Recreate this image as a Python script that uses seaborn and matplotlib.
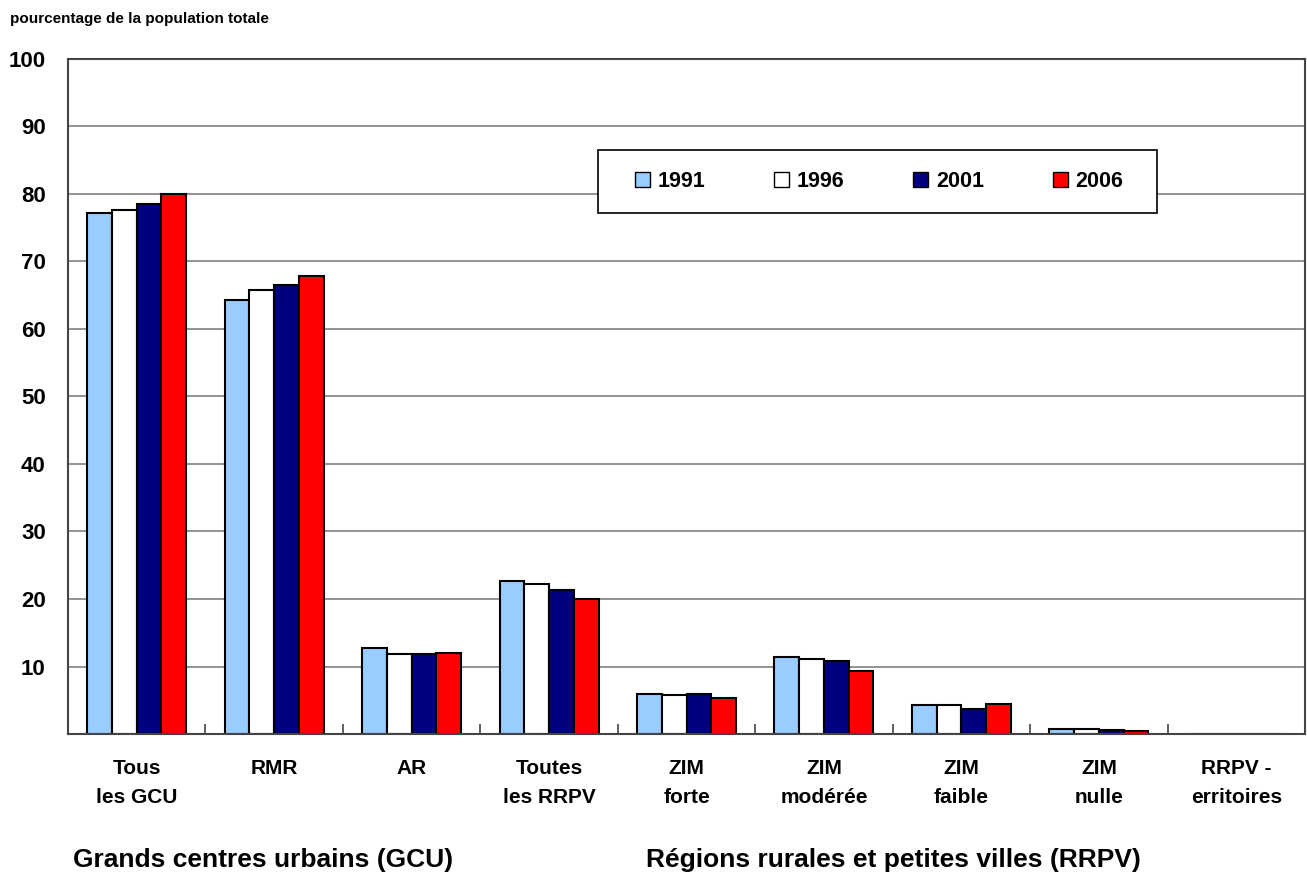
import numpy as np
import pandas as pd
import matplotlib
matplotlib.use("Agg")
import matplotlib.pyplot as plt
from matplotlib.patches import Rectangle
import seaborn as sns

# Données
categories = ["Tous\nles GCU", "RMR", "AR", "Toutes\nles RRPV", "ZIM\nforte",
              "ZIM\nmodérée", "ZIM\nfaible", "ZIM\nnulle", "RRPV -\nerritoires"]
annees = ["1991", "1996", "2001", "2006"]
v1991 = [77.2, 64.3, 12.8, 22.6, 6.0, 11.4, 4.3, 0.8, 0.0]
v1996 = [77.6, 65.7, 11.8, 22.2, 5.8, 11.1, 4.3, 0.8, 0.0]
v2001 = [78.5, 66.5, 11.9, 21.4, 6.0, 10.8, 3.7, 0.6, 0.0]
v2006 = [79.9, 67.8, 12.0, 20.0, 5.3, 9.4, 4.5, 0.45, 0.0]
couleurs = ["#99CCFF", "#FFFFFF", "#000080", "#FF0000"]
yticks = [10, 20, 30, 40, 50, 60, 70, 80, 90, 100]

df = pd.DataFrame({
    "categorie": categories * 4,
    "annee": np.repeat(annees, len(categories)),
    "valeur": v1991 + v1996 + v2001 + v2006,
})

sns.set_theme(style="white")
plt.rcParams["font.family"] = ["Liberation Sans", "DejaVu Sans"]
plt.rcParams["font.weight"] = "bold"
plt.rcParams["text.color"] = "black"
plt.rcParams["xtick.color"] = "black"
plt.rcParams["ytick.color"] = "black"

fig = plt.figure(figsize=(13.07, 8.76), dpi=100)
ax = fig.add_axes([0.052, 0.162, 0.9465, 0.771])

sns.barplot(
    data=df, x="categorie", y="valeur", hue="annee", palette=couleurs,
    width=0.72, edgecolor="black", linewidth=1.5, ax=ax, saturation=1, legend=True
)

ax.set_ylim(0, 100)
ax.set_xlim(-0.5, len(categories) - 0.5)
ax.set_yticks(yticks)
ax.set_yticklabels([str(t) for t in yticks], fontsize=16, fontweight="bold")
ax.yaxis.grid(True, color="#808080", linewidth=1.2)
ax.set_axisbelow(True)
ax.set_xlabel("")
ax.set_ylabel("")
ax.set_xticks(range(len(categories)))
ax.set_xticklabels(categories, fontsize=15, fontweight="bold", linespacing=1.65)
ax.tick_params(axis="x", length=0, pad=18)
ax.tick_params(axis="y", length=0, pad=16)
ax.set_xticks(np.arange(0.5, len(categories) - 0.5), minor=True)
ax.tick_params(axis="x", which="minor", length=7, width=1.2, direction="in",
               bottom=True, color="#444444")
for s in ax.spines.values():
    s.set_color("#444444")
    s.set_linewidth(1.5)

# Cadre de la légende (dessiné à part pour garder les marges de l'original)
ax.add_patch(Rectangle((0.4285, 0.772), 0.452, 0.0935, transform=ax.transAxes,
                       facecolor="white", edgecolor="black", linewidth=1.2, zorder=4))
leg = ax.legend(
    ncol=4, loc="center", bbox_to_anchor=(0.6556, 0.8187), frameon=False,
    handlelength=0.7, handleheight=0.7, handletextpad=0.35, columnspacing=3.2,
    borderpad=0, prop={"size": 15.5, "weight": "bold"}
)
leg.set_zorder(5)
for h in leg.legend_handles:
    h.set_linewidth(1.0)

fig.text(0.008, 0.978, "pourcentage de la population totale", fontsize=11,
         fontweight="bold", ha="left", va="center")
fig.text(0.056, 0.005, "Grands centres urbains (GCU)", fontsize=19,
         fontweight="bold", ha="left", va="bottom")
fig.text(0.494, 0.005, "Régions rurales et petites villes (RRPV)", fontsize=19,
         fontweight="bold", ha="left", va="bottom")

fig.savefig("out.png", dpi=100)
